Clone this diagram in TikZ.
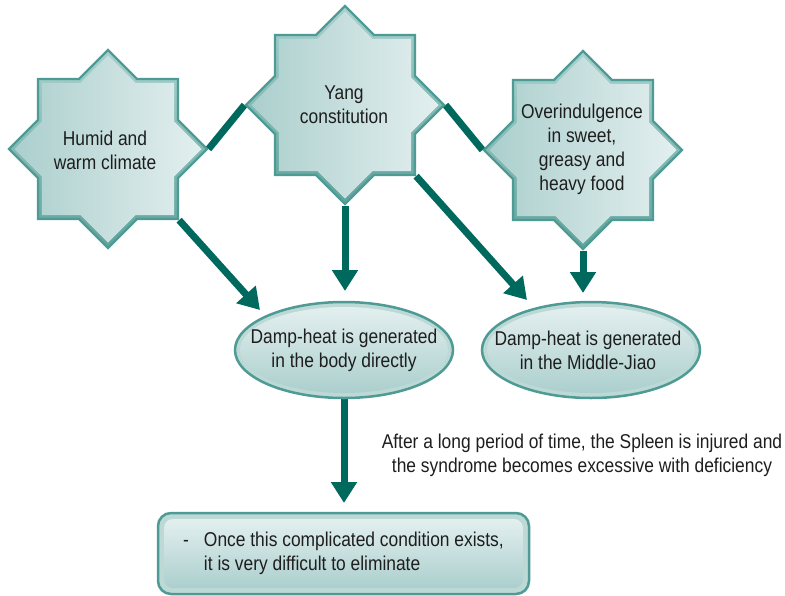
\documentclass[tikz,border=0pt]{standalone}
\usepackage{fontspec}
\setmainfont[FakeStretch=0.87]{Liberation Sans}
\usetikzlibrary{shapes.geometric,arrows.meta,backgrounds}

\definecolor{arrowteal}{HTML}{00695E}
\definecolor{rimteal}{HTML}{4E9A94}
\definecolor{bevtop}{HTML}{A8D1CD}
\definecolor{bevbot}{HTML}{5FA39C}
\definecolor{bevellight}{HTML}{BCD9D6}
\definecolor{shadeA}{HTML}{ABCFCD}
\definecolor{shadeB}{HTML}{E3EFEF}
\definecolor{inktext}{HTML}{1E1E1E}

\tikzset{
  starouter/.style={star, star points=8, star point ratio=1.306,
    minimum size=198pt, inner sep=0pt, draw=rimteal, line width=2.2pt,
    top color=bevtop, bottom color=bevbot},
  starinner/.style={star, star points=8, star point ratio=1.306,
    minimum size=187pt, inner sep=0pt, left color=shadeA, right color=shadeB},
  ellouter/.style={ellipse, minimum width=218pt, minimum height=96pt,
    inner sep=0pt, draw=rimteal, line width=2.5pt, fill=bevellight},
  ellinner/.style={ellipse, minimum width=208pt, minimum height=86pt,
    inner sep=0pt, top color=shadeB, bottom color=shadeA},
  boxouter/.style={rectangle, rounded corners=13pt, minimum width=371pt,
    minimum height=81pt, inner sep=0pt, draw=rimteal, line width=2.5pt, fill=bevellight},
  boxinner/.style={rectangle, rounded corners=9pt, minimum width=359pt,
    minimum height=69pt, inner sep=0pt, top color=shadeB, bottom color=shadeA},
  txt/.style={font=\fontsize{20}{24}\selectfont, align=center, inner sep=0pt, text=inktext},
  conn/.style={draw=arrowteal, line width=7pt},
  arr/.style={conn, -{Triangle[width=25pt,length=21pt]}}
}

\begin{document}
\begin{tikzpicture}[x=1pt,y=-1pt]
\useasboundingbox (0,0) rectangle (785,595);

% causes: eight-pointed stars
\node[starouter] (s1) at (108,149) {};
\node[starinner] (s1i) at (108,149) {};
\node[starouter] (s2) at (345,105) {};
\node[starinner] (s2i) at (345,105) {};
\node[starouter] (s3) at (583,150) {};
\node[starinner] (s3i) at (583,150) {};

% results: ellipses
\node[ellouter] (e1) at (344,350) {};
\node[ellinner] (e1i) at (344,350) {};
\node[ellouter] (e2) at (591,350) {};
\node[ellinner] (e2i) at (591,350) {};

% final state: rounded box
\node[boxouter] (b1) at (343.5,553.5) {};
\node[boxinner] (b1i) at (343.5,553.5) {};

% texts
\node[txt] (t1) at (105,150) {Humid and\\warm climate};
\node[txt] (t2) at (344,105) {Yang\\constitution};
\node[txt] (t3) at (582,149) {Overindulgence\\in sweet,\\greasy and\\heavy food};
\node[txt] (t4) at (344,350) {Damp-heat is generated\\in the body directly};
\node[txt] (t5) at (588,350) {Damp-heat is generated\\in the Middle-Jiao};
\node[txt] (lab) at (582,455) {After a long period of time, the Spleen is injured and\\the syndrome becomes excessive with deficiency};
\node[txt, anchor=west] (t6) at (183,554) {\begin{tabular}{@{}l@{\hspace{15pt}}l@{}}
  - & Once this complicated condition exists,\\
    & it is very difficult to eliminate
\end{tabular}};

% arrow ends
\coordinate (a1) at (260,310);
\coordinate (a2) at (345,291);
\coordinate (a3) at (527,300);
\coordinate (a4) at (583,293);
\coordinate (a5) at (344,503);

\begin{scope}[on background layer]
  \draw[conn] (s1.0) -- (s2.180);
  \draw[conn] (s2.0) -- (s3.180);
  \draw[arr] (s1.-45) -- (a1);
  \draw[arr] (s2.-90) -- (a2);
  \draw[arr] (s2.-45) -- (a3);
  \draw[arr] (s3.-90) -- (a4);
  \draw[arr] (e1.-90) -- (a5);
\end{scope}
\end{tikzpicture}
\end{document}
